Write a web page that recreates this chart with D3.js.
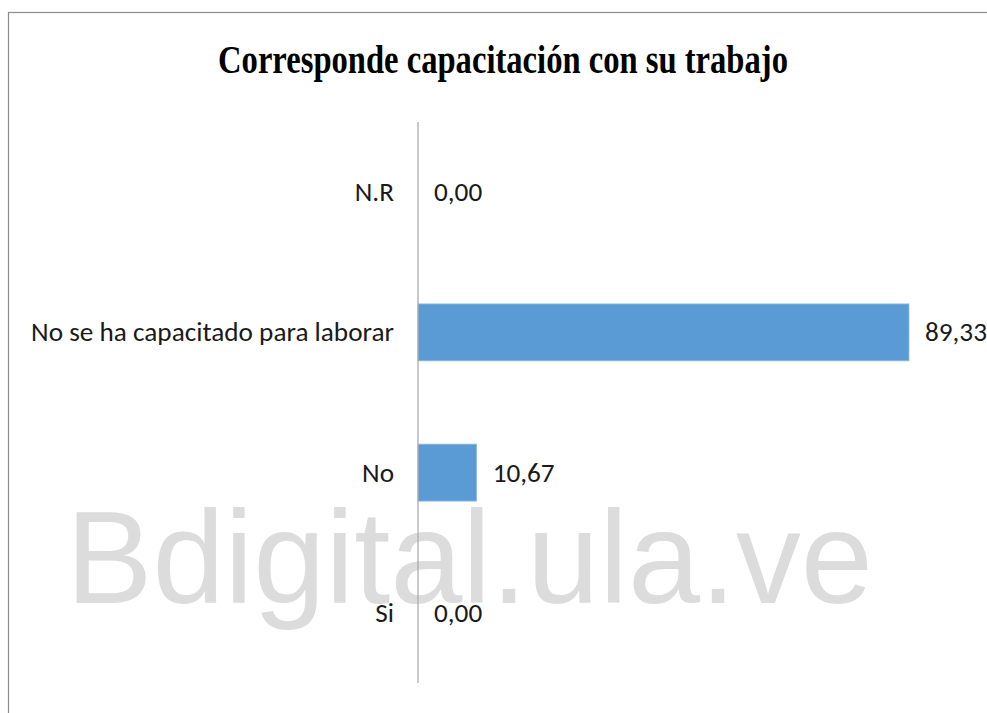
<!DOCTYPE html>
<html>
<head>
<meta charset="utf-8">
<script src="https://cdn.jsdelivr.net/npm/d3@7"></script>
<style>
  html, body { margin: 0; padding: 0; background: #fff; }
  svg { display: block; }
</style>
</head>
<body>
<svg id="chart" width="987" height="713"></svg>
<script>
// ---- data ----
const categories = ["N.R", "No se ha capacitado para laborar", "No", "Si"];
const values = [0.00, 89.33, 10.67, 0.00];
const titleText = "Corresponde capacitación con su trabajo";
const watermarkText = "Bdigital.ula.ve";

const fmt = v => v.toFixed(2).replace(".", ",");

const svg = d3.select("#chart");

// outer border (chart area frame)
svg.append("rect")
  .attr("x", 8.5).attr("y", 12.5)
  .attr("width", 990).attr("height", 720)
  .attr("fill", "#fff")
  .attr("stroke", "#8c8c8c").attr("stroke-width", 1.2);

// scales
const y = d3.scaleBand()
  .domain(categories)
  .range([122, 683])
  .paddingInner(0.594)
  .paddingOuter(0.297);

const x = d3.scaleLinear()
  .domain([0, 100])
  .range([418, 967.6]);

// watermark (behind the chart)
const wm = svg.append("text")
  .attr("font-family", "'Liberation Sans', Arial, sans-serif")
  .attr("font-size", 131)
  .attr("fill", "#dcdcdc")
  .text(watermarkText);
{
  const w = wm.node().getComputedTextLength();
  wm.attr("transform", `translate(66,603) scale(${807 / w},1)`);
}

// title
const title = svg.append("text")
  .attr("font-family", "'Liberation Serif', 'Times New Roman', serif")
  .attr("font-weight", "bold")
  .attr("font-size", 40)
  .attr("fill", "#000")
  .attr("text-anchor", "middle")
  .text(titleText);
{
  const w = title.node().getComputedTextLength();
  title.attr("transform", `translate(503,73) scale(${570 / w},1)`);
}

// bars
svg.append("g").selectAll("rect")
  .data(categories)
  .join("rect")
  .attr("x", x(0))
  .attr("y", d => y(d))
  .attr("width", (d, i) => x(values[i]) - x(0))
  .attr("height", y.bandwidth())
  .attr("fill", "#5b9bd5")
  .attr("stroke", "#8fbbe3")
  .attr("stroke-width", 0.8);

// category axis
const labelFont = "Carlito, Lato, 'Open Sans', sans-serif";
const labelSize = 26.5;
const axisG = svg.append("g")
  .attr("transform", `translate(${x(0)},0)`)
  .call(d3.axisLeft(y).tickSize(0).tickPadding(0));
axisG.select(".domain").remove();
axisG.selectAll("text")
  .attr("font-family", labelFont)
  .attr("font-size", labelSize)
  .attr("fill", "#1a1a1a")
  .attr("x", 0)
  .attr("dy", "0.34em");

// horizontal compression to mimic the narrow Calibri look
let labelScale = 1;
axisG.selectAll("text").each(function(d) {
  if (d === categories[1]) labelScale = 363 / this.getComputedTextLength();
});
axisG.selectAll("text")
  .attr("transform", `translate(-24,0) scale(${labelScale},1)`);

// axis line
svg.append("line")
  .attr("x1", x(0)).attr("x2", x(0))
  .attr("y1", 122).attr("y2", 683)
  .attr("stroke", "#a6a6a6").attr("stroke-width", 1.2);

// value labels
svg.append("g").selectAll("text")
  .data(categories)
  .join("text")
  .attr("font-family", labelFont)
  .attr("font-size", labelSize)
  .attr("fill", "#1a1a1a")
  .attr("dy", "0.34em")
  .attr("transform", (d, i) => `translate(${x(values[i]) + 16},${y(d) + y.bandwidth() / 2}) scale(${labelScale},1)`)
  .text((d, i) => fmt(values[i]));
</script>
</body>
</html>
